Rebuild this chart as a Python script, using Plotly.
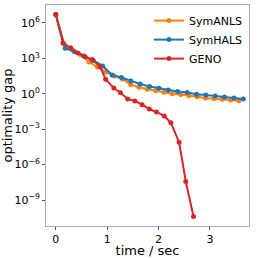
import plotly.graph_objects as go

anls_x = [0.162 * k for k in range(23)]
anls_logy = [6.72, 4.22, 3.71, 3.29, 2.69, 2.27, 1.85, 1.51, 1.25, 0.77, 0.55, 0.38,
             0.26, 0.13, 0.01, -0.06, -0.17, -0.25, -0.36, -0.42, -0.47, -0.53, -0.58]

hals_x = [0.1825 * k for k in range(21)]
hals_logy = [6.72, 3.86, 3.57, 3.2, 2.82, 2.36, 1.59, 1.38, 1.08, 0.83, 0.62, 0.47,
             0.32, 0.19, 0.11, -0.04, -0.10, -0.19, -0.27, -0.36, -0.44]

geno_x = [0, 0.14, 0.29, 0.43, 0.57, 0.71, 0.86, 0.97, 1.13, 1.26, 1.40, 1.54, 1.68,
          1.82, 1.96, 2.11, 2.24, 2.40, 2.53, 2.68]
geno_logy = [6.72, 4.3, 3.9, 3.45, 3.13, 2.9, 2.3, 1.23, 0.48, 0.09, -0.44, -0.61, -0.92,
             -1.29, -1.54, -1.88, -2.45, -4.11, -7.43, -10.4]

ytick_vals = [1e-9, 1e-6, 1e-3, 1, 1e3, 1e6]
ytick_text = ["10<sup>−9</sup>", "10<sup>−6</sup>", "10<sup>−3</sup>", "10<sup>0</sup>",
              "10<sup>3</sup>", "10<sup>6</sup>"]
xtick_vals = [0, 1, 2, 3]

series = [
    ("SymANLS", anls_x, anls_logy, "#ff7f0e"),
    ("SymHALS", hals_x, hals_logy, "#1f77b4"),
    ("GENO", geno_x, geno_logy, "#d62728"),
]

fig = go.Figure()
for name, xs, ly, col in series:
    fig.add_trace(go.Scatter(
        x=xs, y=[10 ** v for v in ly], name=name, mode="lines+markers",
        line=dict(color=col, width=2), marker=dict(color=col, size=5),
    ))

axis_common = dict(showline=True, linecolor="#aaaaaa", linewidth=1, mirror=True,
                   showgrid=False, zeroline=False, ticks="outside", ticklen=3,
                   tickcolor="#555555", tickfont=dict(size=11, color="black"),
                   automargin=False)

fig.update_layout(
    width=258, height=258,
    margin=dict(l=46, r=9, t=5, b=32),
    paper_bgcolor="white", plot_bgcolor="white",
    font=dict(family="DejaVu Sans", color="black"),
    xaxis=dict(range=[-0.19, 3.76], tickvals=xtick_vals,
               title=dict(text="time / sec", font=dict(size=13), standoff=0), **axis_common),
    yaxis=dict(type="log", range=[-11.2, 7.52], tickvals=ytick_vals, ticktext=ytick_text,
               title=dict(text="optimality gap", font=dict(size=13), standoff=0), **axis_common),
    legend=dict(x=0.995, y=0.995, xanchor="right", yanchor="top", bgcolor="rgba(255,255,255,0.8)",
                font=dict(size=11), itemwidth=30, tracegroupgap=0),
)

fig.write_html("out.html", config={"displayModeBar": False},
               post_script="document.body.style.margin='0px';")
